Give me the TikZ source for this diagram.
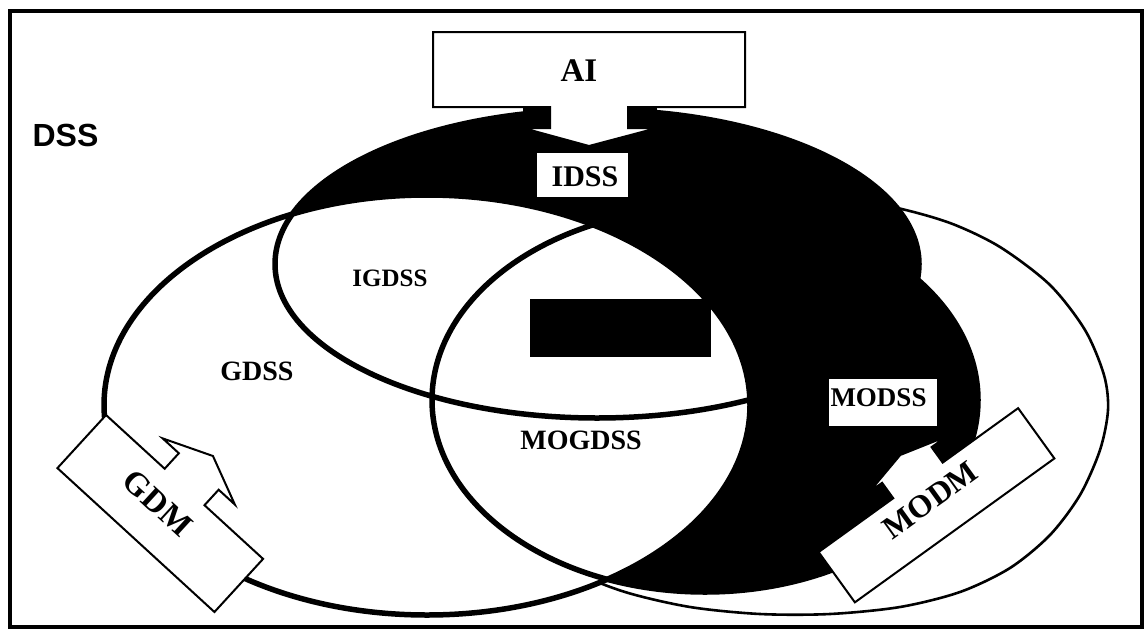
\documentclass[tikz,border=0pt]{standalone}
\usepackage{fontspec}
\setmainfont{Liberation Serif}
\newfontfamily\labelsans{Liberation Sans}
\begin{document}
\begin{tikzpicture}[x=1pt,y=-1pt,
  thickline/.style={line width=5.5pt},
  thinline/.style={line width=2.6pt},
  callout/.style={draw=black, fill=white, line width=2pt, line join=miter},
  lbl/.style={font=\fontsize{#1}{#1}\selectfont\bfseries, inner sep=0pt},
]
\useasboundingbox (0,0) rectangle (1148,632);
\fill[white] (0,0) rectangle (1148,632);
% outer DSS frame
\draw[line width=4.5pt] (10,11) rectangle (1142,627);

% shaded regions: IDSS and the inner MODSS region
\fill[black] (597,264) ellipse [x radius=322pt, y radius=154pt];
\fill[black] (705,400) ellipse [x radius=273pt, y radius=192pt];

% outer MODSS boundary
\draw[thinline] plot[smooth cycle, tension=0.5] coordinates {
  (432,405) (440,350) (470,300) (520,258) (590,225) (670,203) (750,195)
  (830,197) (893,207) (950,223) (1000,247) (1050,285) (1085,330)
  (1104,375) (1108,410) (1100,450) (1080,495) (1050,535) (1010,568)
  (960,592) (900,607) (830,614) (760,614) (690,607) (625,592) (570,570)
  (520,540) (475,500) (445,455)};

% GDSS ellipse
\fill[white] (427,405) ellipse [x radius=323pt, y radius=210pt];
\draw[thickline] (427,405) ellipse [x radius=323pt, y radius=210pt];
\draw[thickline] (597,264) ellipse [x radius=322pt, y radius=154pt];
\draw[thickline] (705,400) ellipse [x radius=273pt, y radius=192pt];

% centre block
\fill[black] (530,299) rectangle (711,357);

% label backgrounds
\fill[white] (537,153) rectangle (628,197);
\fill[white] (829,379) rectangle (937,426);

% labels
\node[font=\labelsans\fontsize{32}{32}\selectfont\bfseries, inner sep=0pt] (dss) at (65.5,135) {DSS};
\node[lbl=30] (idss) at (585,177) {IDSS};
\node[lbl=25] (igdss) at (390,278) {IGDSS};
\node[lbl=28] (gdss) at (257,371) {GDSS};
\node[lbl=28] (mogdss) at (581,440) {MOGDSS};
\node[lbl=27] (modss) at (878.5,397.5) {MODSS};

% AI callout pointing down into IDSS
\fill[black] (523,107) rectangle (657,128);
\draw[callout] (433,32) -- (745,32) -- (745,107) -- (628,107) -- (628,128)
  -- (657,128) -- (589,146) -- (523,128) -- (550,128) -- (550,107)
  -- (433,107) -- cycle;
\node[lbl=33] (ai) at (579,71) {AI};

% GDM callout pointing into GDSS
\begin{scope}[shift={(160.25,513.5)}, rotate=-42.5]
  \draw[callout] (-106.5,-36) -- (-27,-36) -- (-27,-57) -- (-49,-57) -- (0,-78)
    -- (49,-57) -- (27,-57) -- (27,-36) -- (106.5,-36) -- (106.5,36)
    -- (-106.5,36) -- cycle;
  \node[lbl=33, rotate=-42.5] (gdm) at (-9,-6) {GDM};
\end{scope}

% MODM callout pointing into MODSS
\begin{scope}[shift={(936.5,505.25)}, rotate=35.8]
  \draw[callout] (-123,-31) -- (-31,-31) -- (-31,-50) -- (-47,-50) -- (0,-62)
    -- (48,-50) -- (30,-50) -- (30,-31) -- (123,-31) -- (123,31)
    -- (-123,31) -- cycle;
  \node[lbl=32, rotate=35.8] (modm) at (-2,-8) {MODM};
\end{scope}
\end{tikzpicture}
\end{document}
